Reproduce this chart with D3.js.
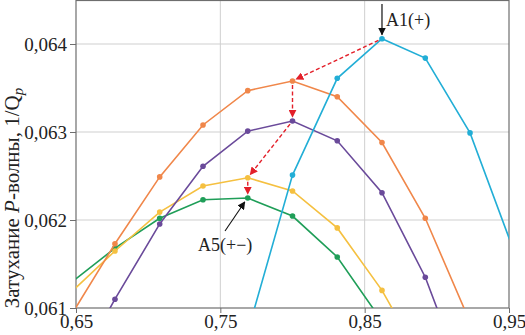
<!DOCTYPE html>
<html>
<head>
<meta charset="utf-8">
<script src="https://cdn.jsdelivr.net/npm/d3@7"></script>
<style>
  body { margin: 0; background: #fff; }
  svg text { font-family: "Liberation Serif", "DejaVu Serif", serif; }
</style>
</head>
<body>
<div id="chart"></div>
<script>
// x positions of the measurement points (first and last ones lie outside the plot)
var xValues = [0.646, 0.677, 0.708, 0.738, 0.769, 0.800, 0.831, 0.862, 0.892, 0.923, 0.954];

var cyanVals   = [null, null, null, null, 0.06073, 0.06251, 0.06361, 0.06406, 0.06384, 0.06299, 0.06162];
var orangeVals = [0.06090, 0.06173, 0.06249, 0.06308, 0.06347, 0.06358, 0.06340, 0.06288, 0.06202, 0.06084, null];
var purpleVals = [0.06019, 0.06110, 0.061955, 0.06261, 0.06301, 0.063125, 0.06290, 0.06231, 0.06135, 0.06000, null];
var yellowVals = [0.06117, 0.061648, 0.06209, 0.062386, 0.06248, 0.06233, 0.06191, 0.06120, 0.06033, null, null];
var greenVals  = [0.06128, 0.06168, 0.06202, 0.06223, 0.06225, 0.062045, 0.06158, 0.06085, null, null, null];

var seriesNames  = ["cyan", "orange", "purple", "yellow", "green"];
var seriesColors = ["#22aed6", "#f0874a", "#6a4a9a", "#f5c040", "#1f9e58"];
var seriesVals   = [cyanVals, orangeVals, purpleVals, yellowVals, greenVals];

var xTicks = [0.65, 0.75, 0.85, 0.95];
var yTicks = [0.061, 0.062, 0.063, 0.064];
var yLabelMain = "Затухание ";
var yLabelP = "P";
var yLabelRest = "-волны, 1/Q";
var yLabelSub = "p";

// peak path A1 -> A5 : [series index, point index]
var peakPath = [[0, 7], [1, 5], [2, 5], [3, 4], [4, 4]];

var W = 525, H = 335;
var margin = {top: 0, right: 16, bottom: 27, left: 76};

var svg = d3.select("#chart").append("svg")
    .attr("width", W).attr("height", H);

var x = d3.scaleLinear().domain([0.65, 0.95]).range([margin.left, W - margin.right]);
var y = d3.scaleLinear().domain([0.061, 0.0645]).range([H - margin.bottom, margin.top]);

var fmt = function(d) { return d3.format(".3f")(d).replace(".", ","); };
var fmtX = function(d) { return d3.format(".2f")(d).replace(".", ","); };

// grid
svg.append("g").selectAll("line").data(yTicks.slice(1)).join("line")
    .attr("x1", x.range()[0]).attr("x2", x.range()[1])
    .attr("y1", d => y(d)).attr("y2", d => y(d))
    .attr("stroke", "#cfcfcf").attr("stroke-width", 1);
svg.append("g").selectAll("line").data(xTicks.slice(1, -1)).join("line")
    .attr("x1", d => x(d)).attr("x2", d => x(d))
    .attr("y1", y.range()[0]).attr("y2", y.range()[1])
    .attr("stroke", "#cfcfcf").attr("stroke-width", 1);

// frame
svg.append("rect")
    .attr("x", x.range()[0]).attr("y", y.range()[1] + 0.5)
    .attr("width", x.range()[1] - x.range()[0])
    .attr("height", y.range()[0] - y.range()[1] - 0.5)
    .attr("fill", "none").attr("stroke", "#6e6e6e").attr("stroke-width", 1.2);

// axes
var yAxis = svg.append("g").attr("transform", "translate(" + x.range()[0] + ",0)")
    .call(d3.axisLeft(y).tickValues(yTicks).tickFormat(fmt).tickSize(6).tickPadding(3));
var xAxis = svg.append("g").attr("transform", "translate(0," + y.range()[0] + ")")
    .call(d3.axisBottom(x).tickValues(xTicks).tickFormat(fmtX).tickSize(5).tickPadding(2));
[yAxis, xAxis].forEach(function(a) {
    a.select(".domain").remove();
    a.selectAll("line").attr("stroke", "#6e6e6e");
    a.selectAll("text").attr("font-size", 19).attr("fill", "#222")
        .style("font-family", "'Liberation Serif', serif");
});

// y label
var yl = svg.append("text")
    .attr("transform", "translate(19," + 198 + ") rotate(-90)")
    .attr("text-anchor", "middle")
    .attr("font-size", 21).attr("fill", "#222");
yl.append("tspan").text(yLabelMain);
yl.append("tspan").attr("font-style", "italic").text(yLabelP);
yl.append("tspan").text(yLabelRest);
yl.append("tspan").attr("font-style", "italic").attr("font-size", 15).attr("dy", 4).text(yLabelSub);

// clip
svg.append("clipPath").attr("id", "plot-clip").append("rect")
    .attr("x", x.range()[0]).attr("y", y.range()[1])
    .attr("width", x.range()[1] - x.range()[0])
    .attr("height", y.range()[0] - y.range()[1]);

var plot = svg.append("g").attr("clip-path", "url(#plot-clip)");

var line = d3.line()
    .defined(d => d.v !== null)
    .x(d => x(d.x))
    .y(d => y(d.v));

// draw in the order: green, yellow, purple, orange, cyan
[4, 3, 2, 1, 0].forEach(function(i) {
    var pts = xValues.map(function(xv, j) { return {x: xv, v: seriesVals[i][j]}; });
    plot.append("path")
        .attr("class", "series-" + seriesNames[i])
        .attr("d", line(pts))
        .attr("fill", "none")
        .attr("stroke", seriesColors[i])
        .attr("stroke-width", 1.6);
    plot.append("g").selectAll("circle").data(pts.filter(d => d.v !== null)).join("circle")
        .attr("cx", d => x(d.x)).attr("cy", d => y(d.v))
        .attr("r", 2.8)
        .attr("fill", seriesColors[i]);
});

// arrow markers
var defs = svg.append("defs");
defs.append("marker").attr("id", "red-head")
    .attr("viewBox", "0 0 10 10").attr("refX", 9).attr("refY", 5)
    .attr("markerWidth", 8).attr("markerHeight", 8).attr("markerUnits", "userSpaceOnUse")
    .attr("orient", "auto")
    .append("path").attr("d", "M0,0 L10,5 L0,10 Z").attr("fill", "#e3202a");
defs.append("marker").attr("id", "black-head")
    .attr("viewBox", "0 0 10 10").attr("refX", 9).attr("refY", 5)
    .attr("markerWidth", 8).attr("markerHeight", 8).attr("markerUnits", "userSpaceOnUse")
    .attr("orient", "auto")
    .append("path").attr("d", "M0,0 L10,5 L0,10 Z").attr("fill", "#111");

// red dashed peak-to-peak arrows
for (var k = 0; k < peakPath.length - 1; k++) {
    var a = peakPath[k], b = peakPath[k + 1];
    var x1 = x(xValues[a[1]]), y1 = y(seriesVals[a[0]][a[1]]);
    var x2 = x(xValues[b[1]]), y2 = y(seriesVals[b[0]][b[1]]);
    var len = Math.hypot(x2 - x1, y2 - y1);
    var ux = (x2 - x1) / len, uy = (y2 - y1) / len;
    svg.append("line")
        .attr("x1", x1 + ux * 4).attr("y1", y1 + uy * 4)
        .attr("x2", x2 - ux * 4).attr("y2", y2 - uy * 4)
        .attr("stroke", "#e3202a").attr("stroke-width", 1.4)
        .attr("stroke-dasharray", "4,2.5")
        .attr("marker-end", "url(#red-head)");
}

// A1(+) annotation
var a1x = x(xValues[7]), a1y = y(cyanVals[7]);
svg.append("line")
    .attr("x1", a1x).attr("y1", 4).attr("x2", a1x).attr("y2", a1y - 4)
    .attr("stroke", "#111").attr("stroke-width", 1.2)
    .attr("marker-end", "url(#black-head)");
svg.append("text").attr("x", a1x + 4).attr("y", 26)
    .attr("font-size", 18).attr("fill", "#222").text("A1(+)");

// A5(+-) annotation
var a5x = x(xValues[4]), a5y = y(greenVals[4]);
svg.append("line")
    .attr("x1", 225).attr("y1", 231).attr("x2", a5x - 3).attr("y2", a5y + 4)
    .attr("stroke", "#111").attr("stroke-width", 1.1)
    .attr("marker-end", "url(#black-head)");
svg.append("text").attr("x", 198).attr("y", 251)
    .attr("font-size", 18).attr("fill", "#222").text("A5(+−)");
</script>
</body>
</html>
